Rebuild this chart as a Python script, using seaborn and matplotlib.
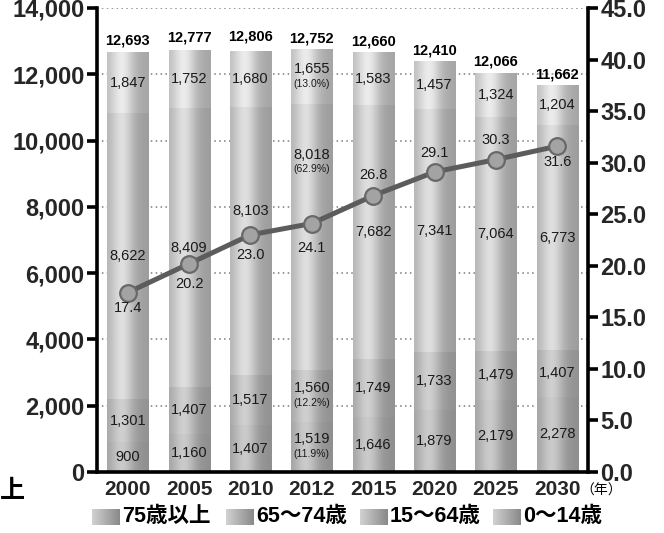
import numpy as np
import pandas as pd
import matplotlib
matplotlib.use("Agg")
import matplotlib.pyplot as plt
import seaborn as sns

# ---- data (万人 / %) ----
years = ["2000", "2005", "2010", "2012", "2015", "2020", "2025", "2030"]
age_75_plus = [900, 1160, 1407, 1519, 1646, 1879, 2179, 2278]
age_65_74 = [1301, 1407, 1517, 1560, 1749, 1733, 1479, 1407]
age_15_64 = [8622, 8409, 8103, 8018, 7682, 7341, 7064, 6773]
age_0_14 = [1847, 1752, 1680, 1655, 1583, 1457, 1324, 1204]
totals = [12693, 12777, 12806, 12752, 12660, 12410, 12066, 11662]
aging_rate = [17.4, 20.2, 23.0, 24.1, 26.8, 29.1, 30.3, 31.6]
group_names = ["75歳以上", "65～74歳", "15～64歳", "0～14歳"]
shares_2012 = ["(11.9%)", "(12.2%)", "(62.9%)", "(13.0%)"]

sns.set_theme(style="white")
plt.rcParams["font.family"] = ["Liberation Sans", "Noto Sans CJK JP", "DejaVu Sans"]

W, H = 664, 533
fig = plt.figure(figsize=(W / 100, H / 100), dpi=100)
fig.patch.set_facecolor("white")
ax = fig.add_axes([97 / W, 1 - 472 / H, (588 - 97) / W, 464 / H])
ax.set_facecolor("white")

# brightness of each age group at the highlight of the cylinder
shades = [0.80, 0.82, 0.88, 0.93]
bar_width = 0.67


def cylinder_rgb(level, n=64):
    t = np.linspace(0, 1, n)
    prof = 0.70 + 0.08 * (1 - t) + 0.24 * np.exp(-((t - 0.36) / 0.27) ** 2)
    g = np.clip(level * prof, 0, 1)
    return np.dstack([g, g, g]).reshape(1, n, 3)


series = [age_75_plus, age_65_74, age_15_64, age_0_14]
bottoms = np.zeros(len(years))
patch_groups = []
for name, vals, lvl in zip(group_names, series, shades):
    before = len(ax.patches)
    sns.barplot(x=years, y=vals, bottom=bottoms.copy(), color=str(lvl * 0.85),
                width=bar_width, saturation=1, linewidth=0, ax=ax, zorder=2)
    patch_groups.append(ax.patches[before:])
    bottoms = bottoms + np.array(vals)

# cylinder shading clipped to each bar segment
for lvl, patches in zip(shades, patch_groups):
    for p in patches:
        x0, y0, w, h = p.get_x(), p.get_y(), p.get_width(), p.get_height()
        im = ax.imshow(cylinder_rgb(lvl), extent=(x0, x0 + w, y0, y0 + h),
                       aspect="auto", interpolation="bilinear", zorder=2.5)
        im.set_clip_path(p)

ax.set_xlim(-0.5, len(years) - 0.5)
ax.set_ylim(0, 14000)
ax.set_xlabel("")
ax.set_ylabel("")

# dotted horizontal guides
ax.set_yticks(range(0, 14001, 2000))
ax.set_yticklabels([f"{v:,}" for v in range(0, 14001, 2000)],
                   fontsize=17, fontweight="bold")
ax.yaxis.grid(True, linestyle=(0, (1, 2.2)), color="#7a7a7a", linewidth=1.1)
ax.xaxis.grid(False)
ax.set_axisbelow(True)

for s in ["top", "right"]:
    ax.spines[s].set_visible(False)
for s in ["left", "bottom"]:
    ax.spines[s].set_linewidth(2.6)
    ax.spines[s].set_color("black")
    ax.spines[s].set_zorder(5)

ax.set_xticks(range(len(years)))
ax.set_xticklabels(years, fontsize=15, fontweight="bold")
ax.set_xticks(np.arange(0.5, len(years) - 1, 1.0), minor=True)
ax.tick_params(axis="x", which="major", length=0, pad=6)
ax.tick_params(axis="x", which="minor", length=7, width=2.6, direction="out", color="black")
ax.tick_params(axis="y", length=7, width=2.6, direction="out", color="black", pad=2, left=True)

# segment values
label_lift = {(2, 2): 900, (3, 2): 2250}
bottoms = np.zeros(len(years))
for gi, vals in enumerate(series):
    for i, v in enumerate(vals):
        yc = bottoms[i] + v / 2 + label_lift.get((i, gi), 0)
        if years[i] == "2012":
            ax.text(i, yc + 240, f"{v:,}", ha="center", va="center", fontsize=10.5,
                    color="#1a1a1a", zorder=6)
            ax.text(i, yc - 210, shares_2012[gi], ha="center", va="center", fontsize=7.5,
                    color="#1a1a1a", zorder=6)
        else:
            ax.text(i, yc, f"{v:,}", ha="center", va="center", fontsize=10.5,
                    color="#1a1a1a", zorder=6)
    bottoms = bottoms + np.array(vals)

for i, t in enumerate(totals):
    ax.text(i, max(t, bottoms[i]) + 110, f"{t:,}", ha="center", va="bottom",
            fontsize=10.5, fontweight="bold", color="black", zorder=6)

# aging rate on the secondary axis
ax2 = ax.twinx()
ax2.patch.set_visible(False)
sns.lineplot(x=np.arange(len(years)), y=aging_rate, ax=ax2, color="#5c5c5c",
             linewidth=3.6, marker="o", markersize=12, markerfacecolor="#a3a3a3",
             markeredgecolor="#686868", markeredgewidth=1.6, zorder=7)
ax2.set_xlim(-0.5, len(years) - 0.5)
ax2.set_ylim(0, 45)
ax2.set_yticks(np.arange(0, 45.1, 5))
ax2.set_yticklabels([f"{v:.1f}" for v in np.arange(0, 45.1, 5)],
                    fontsize=17, fontweight="bold")
ax2.grid(False)
for s in ["top", "left", "bottom"]:
    ax2.spines[s].set_visible(False)
ax2.spines["right"].set_linewidth(2.6)
ax2.spines["right"].set_color("black")
ax2.tick_params(axis="y", length=7, width=2.6, direction="out", color="black", pad=2, right=True)
ax2.set_ylabel("")

rate_offsets = [-15, -20, -20, -24, 21, 19, 20, -16]
for i, (r, off) in enumerate(zip(aging_rate, rate_offsets)):
    ax2.annotate(f"{r:.1f}", (i, r), xytext=(0, off), textcoords="offset pixels",
                 ha="center", va="center", fontsize=10.5, color="#1a1a1a", zorder=8)

# overlay for legend and loose captions, in pixel units
lax = fig.add_axes([0, 0, 1, 1], zorder=-1)
lax.set_xlim(0, W)
lax.set_ylim(H, 0)
lax.axis("off")

legend_x = [92, 226, 360, 493]
for x, name in zip(legend_x, group_names):
    t = np.linspace(0, 1, 32)
    g = 0.82 - 0.28 * t
    sq = np.dstack([g, g, g]).reshape(1, 32, 3)
    lax.imshow(sq, extent=(x, x + 28, 525, 509), aspect="auto", interpolation="bilinear")
    lax.text(x + 30, 517, name, ha="left", va="center", fontsize=15.5,
             fontweight="bold", color="black")

lax.text(580, 491, "（年）", ha="left", va="center", fontsize=10, color="black")
lax.text(12, 491, "上", ha="center", va="center", fontsize=18, fontweight="bold", color="black")
lax.set_xlim(0, W)
lax.set_ylim(H, 0)

fig.savefig("out.png", dpi=100, facecolor="white")
